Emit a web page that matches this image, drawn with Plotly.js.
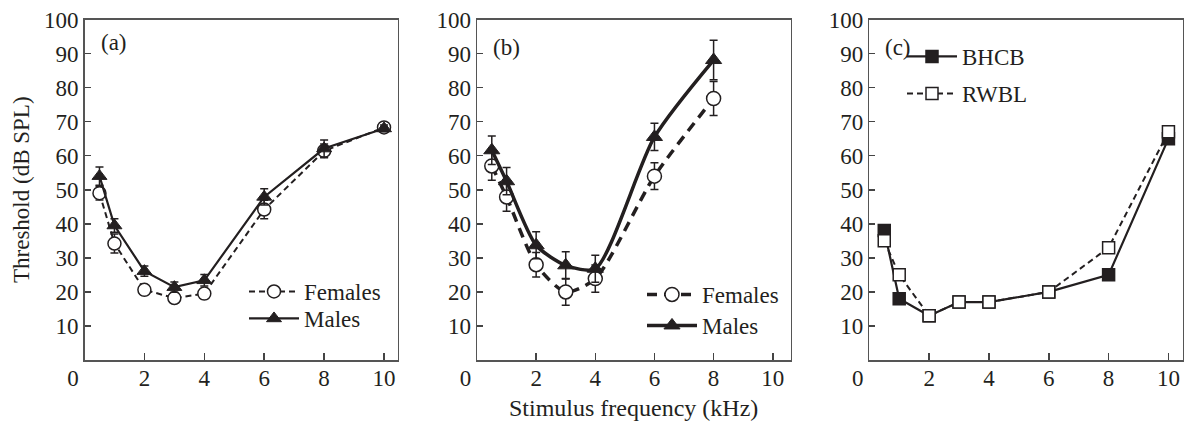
<!DOCTYPE html>
<html>
<head>
<meta charset="utf-8">
<script src="https://cdn.plot.ly/plotly-3.0.1.min.js"></script>
<style>html,body{margin:0;padding:0;background:#fff;}#chart{width:1184px;height:421px;}</style>
</head>
<body>
<div id="chart"></div>
<script>
// ---- data ----
const freqA = [0.5, 1, 2, 3, 4, 6, 8, 10];
const femalesA = [49, 34.2, 20.6, 18.2, 19.5, 44.2, 61.4, 68.3];
const femalesAErr = [2, 2.8, 1.5, 1.5, 1.5, 2.7, 2, 1];
const malesA = [54, 39.5, 26.1, 21.4, 23.4, 47.9, 62.1, 68];
const malesAErr = [2.7, 2, 1.5, 1.5, 1.7, 2.4, 2.5, 1];

const freqB = [0.5, 1, 2, 3, 4, 6, 8];
const femalesB = [57, 47.9, 28, 20, 23.9, 54, 76.8];
const femalesBErr = [4.2, 4.2, 3.6, 3.9, 4, 3.9, 5];
const malesB = [61.6, 52.5, 33.7, 27.8, 26.8, 65.5, 88.1];
const malesBErr = [4.2, 4, 4, 4, 4, 4, 5.8];

const freqC = [0.5, 1, 2, 3, 4, 6, 8, 10];
const bhcb = [38, 18, 13, 17, 17, 20, 25, 65];
const rwbl = [35, 25, 13, 17, 17, 20, 33, 67];

const xTicks = [0, 2, 4, 6, 8, 10];
const xTickText = ['0\u00a0\u00a0\u00a0\u00a0', '2', '4', '6', '8', '10'];
const yTicks = [10, 20, 30, 40, 50, 60, 70, 80, 90, 100];
const panelLabels = ['(a)', '(b)', '(c)'];
const yTitle = 'Threshold (dB SPL)';
const xTitle = 'Stimulus frequency (kHz)';

// ---- style ----
const INK = '#231f20';
const FONT = 'Liberation Serif, Times New Roman, serif';
const FS = 23;

function errs(arr, thick) {
  return {type: 'data', array: arr, visible: true, color: INK, thickness: thick, width: 4};
}

const traces = [
  {x: freqA, y: femalesA, name: 'Females', xaxis: 'x', yaxis: 'y', legend: 'legend',
   mode: 'lines+markers', line: {color: INK, width: 2, dash: '6px,4px'},
   marker: {symbol: 'circle', size: 13, color: '#fff', line: {color: INK, width: 1.5}},
   error_y: errs(femalesAErr, 1.5)},
  {x: freqA, y: malesA, name: 'Males', xaxis: 'x', yaxis: 'y', legend: 'legend2',
   mode: 'lines+markers', line: {color: INK, width: 2.2},
   marker: {symbol: 'triangle-up', size: 13, color: INK, line: {color: INK, width: 1}},
   error_y: errs(malesAErr, 1.5)},
  {x: freqB, y: femalesB, name: 'Females', xaxis: 'x2', yaxis: 'y2', legend: 'legend3',
   mode: 'lines+markers', line: {color: INK, width: 3.5, dash: '10px,7px', shape: 'spline', smoothing: 0.7},
   marker: {symbol: 'circle', size: 14, color: '#fff', line: {color: INK, width: 1.5}},
   error_y: errs(femalesBErr, 1.5)},
  {x: freqB, y: malesB, name: 'Males', xaxis: 'x2', yaxis: 'y2', legend: 'legend4',
   mode: 'lines+markers', line: {color: INK, width: 3.5, shape: 'spline', smoothing: 0.7},
   marker: {symbol: 'triangle-up', size: 14, color: INK, line: {color: INK, width: 1}},
   error_y: errs(malesBErr, 1.5)},
  {x: freqC, y: bhcb, name: 'BHCB', xaxis: 'x3', yaxis: 'y3', legend: 'legend5',
   mode: 'lines+markers', line: {color: INK, width: 2.2},
   marker: {symbol: 'square', size: 12, color: INK, line: {color: INK, width: 1.5}}},
  {x: freqC, y: rwbl, name: 'RWBL', xaxis: 'x3', yaxis: 'y3', legend: 'legend6',
   mode: 'lines+markers', line: {color: INK, width: 2, dash: '6px,4px'},
   marker: {symbol: 'square', size: 12, color: '#fff', line: {color: INK, width: 1.5}}}
];

const W = 1184, H = 421;
const yDom = [1 - 360 / H, 1 - 19.5 / H];

function xax(dom, maxX, anchor) {
  return {domain: dom, range: [0, maxX], anchor: anchor, tickvals: xTicks, ticktext: xTickText,
    ticks: 'inside', ticklen: 7, tickwidth: 1.5, tickcolor: '#444', showline: true, linecolor: '#555',
    linewidth: 1.5, mirror: true, showgrid: false, zeroline: false, ticklabelstandoff: -3,
    tickfont: {family: FONT, size: FS, color: INK}, fixedrange: true};
}
function yax(anchor) {
  return {domain: yDom, range: [0, 100], anchor: anchor, tickvals: yTicks, ticktext: yTicks.map(String),
    ticks: 'inside', ticklen: 6, tickwidth: 1.5, tickcolor: '#444', showline: true, linecolor: '#555',
    linewidth: 1.5, mirror: true, showgrid: false, zeroline: false,
    tickfont: {family: FONT, size: FS, color: INK}, fixedrange: true};
}
// one legend per entry so each row can sit exactly where the reference puts it
function leg(xpx, yCenterPx) {
  return {x: xpx / W, y: 1 - (yCenterPx - 22) / H, xanchor: 'left', yanchor: 'top', bgcolor: 'rgba(0,0,0,0)',
    borderwidth: 0, font: {family: FONT, size: FS, color: INK}, itemwidth: 50};
}

const layout = {
  width: W, height: H, margin: {l: 0, r: 0, t: 0, b: 0},
  paper_bgcolor: '#fff', plot_bgcolor: '#fff', showlegend: true,
  font: {family: FONT, size: FS, color: INK},
  xaxis: xax([84.5 / W, 397.5 / W], 10.45, 'y'),
  yaxis: yax('x'),
  xaxis2: xax([477 / W, 790.5 / W], 10.6, 'y2'),
  yaxis2: yax('x2'),
  xaxis3: xax([869.3 / W, 1182.5 / W], 10.47, 'y3'),
  yaxis3: yax('x3'),
  legend: leg(244, 292),
  legend2: leg(244, 319),
  legend3: leg(642, 295),
  legend4: leg(642, 326),
  legend5: leg(902, 57),
  legend6: leg(902, 94),
  annotations: [
    {text: panelLabels[0], xref: 'x domain', yref: 'y domain', x: 0.045, y: 0.931, xanchor: 'left', yanchor: 'middle', showarrow: false, font: {family: FONT, size: FS, color: INK}},
    {text: panelLabels[1], xref: 'x2 domain', yref: 'y2 domain', x: 0.045, y: 0.919, xanchor: 'left', yanchor: 'middle', showarrow: false, font: {family: FONT, size: FS, color: INK}},
    {text: panelLabels[2], xref: 'x3 domain', yref: 'y3 domain', x: 0.045, y: 0.919, xanchor: 'left', yanchor: 'middle', showarrow: false, font: {family: FONT, size: FS, color: INK}},
    {text: yTitle, xref: 'paper', yref: 'paper', x: 22 / W, y: 1 - 190 / H, textangle: -90, xanchor: 'center', yanchor: 'middle', showarrow: false, font: {family: FONT, size: 23, color: INK}},
    {text: xTitle, xref: 'paper', yref: 'paper', x: 633.5 / W, y: 1 - 408 / H, xanchor: 'center', yanchor: 'middle', showarrow: false, font: {family: FONT, size: 24, color: INK}}
  ]
};

Plotly.newPlot('chart', traces, layout, {staticPlot: true, displayModeBar: false});
</script>
</body>
</html>
